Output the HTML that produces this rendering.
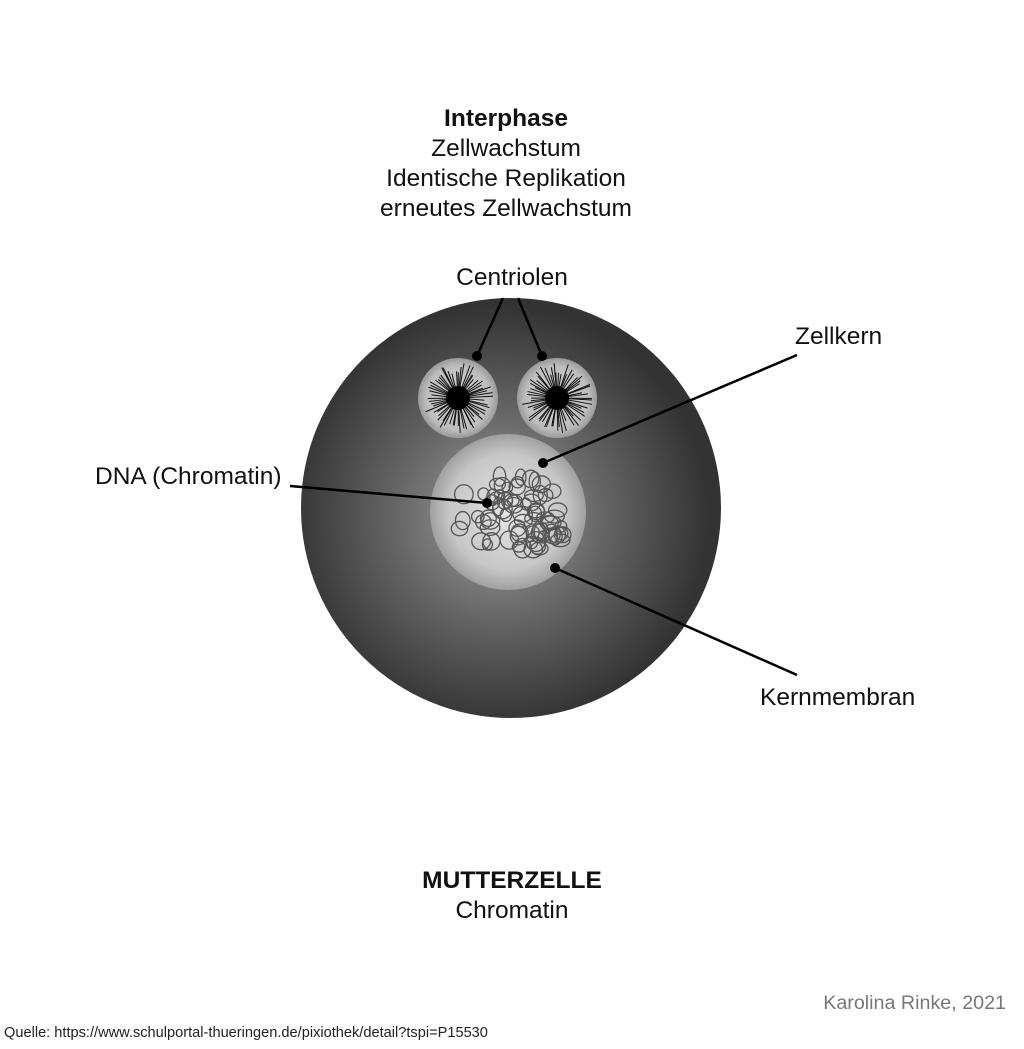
<!DOCTYPE html>
<html><head><meta charset="utf-8"><style>
html,body{margin:0;padding:0;background:#fff;}
body{width:1024px;height:1049px;overflow:hidden;position:relative;font-family:"Liberation Sans",Arial,sans-serif;}
.t{position:absolute;text-align:center;color:#111;font-size:24.5px;line-height:30px;}
</style></head><body>
<div class="t" style="left:306px;top:104px;width:400px;"><b>Interphase</b><br>Zellwachstum<br>Identische Replikation<br>erneutes Zellwachstum</div>
<div class="t" style="left:412px;top:263px;width:200px;">Centriolen</div>
<div class="t" style="left:795px;top:322px;width:150px;text-align:left;">Zellkern</div>
<div class="t" style="left:95px;top:462px;width:220px;text-align:left;">DNA (Chromatin)</div>
<div class="t" style="left:760px;top:683px;width:200px;text-align:left;">Kernmembran</div>
<div class="t" style="left:312px;top:866px;width:400px;"><b>MUTTERZELLE</b><br>Chromatin</div>
<div class="t" style="left:700px;top:988px;width:306px;text-align:right;font-size:19.7px;color:#777;">Karolina Rinke, 2021</div>
<div class="t" style="left:4px;top:1025px;width:700px;text-align:left;font-size:14.6px;line-height:17px;color:#222;">Quelle: https://www.schulportal-thueringen.de/pixiothek/detail?tspi=P15530</div>
<svg id="s" width="1024" height="1049" style="position:absolute;left:0;top:0">
<defs>
<radialGradient id="cg" cx="0.47" cy="0.52" r="0.5">
<stop offset="0" stop-color="#a0a0a0"/><stop offset="0.5" stop-color="#656565"/><stop offset="1" stop-color="#333"/></radialGradient>
<radialGradient id="ng" cx="0.5" cy="0.5" r="0.5">
<stop offset="0" stop-color="#e6e6e6"/><stop offset="0.75" stop-color="#c6c6c6"/><stop offset="1" stop-color="#a0a0a0"/></radialGradient>
<radialGradient id="zg" cx="0.5" cy="0.5" r="0.5">
<stop offset="0" stop-color="#d8d8d8"/><stop offset="0.8" stop-color="#bdbdbd"/><stop offset="1" stop-color="#9a9a9a"/></radialGradient>
</defs>
<circle cx="511" cy="508" r="210" fill="url(#cg)"/>
<circle cx="508" cy="512" r="78" fill="url(#ng)"/>
<circle cx="458" cy="398" r="40" fill="url(#zg)"/>
<circle cx="557" cy="398" r="40" fill="url(#zg)"/>
<g id="rays" stroke="#111" stroke-width="1"></g>
<g id="chrom" fill="none" stroke="#555" stroke-width="1.3"></g>
<circle cx="458" cy="398" r="12" fill="#000"/>
<circle cx="557" cy="398" r="12" fill="#000"/>
<g stroke="#000" stroke-width="2.5">
<line x1="503" y1="298" x2="477" y2="356"/><line x1="518" y1="298" x2="542" y2="356"/>
<line x1="797" y1="355" x2="543" y2="463"/>
<line x1="290" y1="486" x2="487" y2="503"/>
<line x1="797" y1="675" x2="555" y2="568"/>
</g>
<g fill="#000"><circle cx="477" cy="356" r="5"/><circle cx="542" cy="356" r="5"/><circle cx="543" cy="463" r="5"/><circle cx="487" cy="503" r="5"/><circle cx="555" cy="568" r="5"/></g>
</svg>
<script>
var ns="http://www.w3.org/2000/svg",r=document.getElementById("rays"),c=document.getElementById("chrom");
var seed=7;function rnd(){seed=(seed*16807)%2147483647;return seed/2147483647;}
[[458,398],[557,398]].forEach(function(p){for(var i=0;i<60;i++){var a=i/60*6.283+(rnd()-0.5)*0.1,l=24+rnd()*12;var e=document.createElementNS(ns,"line");e.setAttribute("x1",p[0]);e.setAttribute("y1",p[1]);e.setAttribute("x2",p[0]+Math.cos(a)*l);e.setAttribute("y2",p[1]+Math.sin(a)*l);r.appendChild(e);}});
var n=0;while(n<75){var x=452+rnd()*115,y=469+rnd()*82;var dx=(x-510)/54,dy=(y-512)/38;if(dy<0&&dx*dx+dy*dy>1)continue;if(dy>=0&&Math.abs(dx)>1)continue;n++;var e=document.createElementNS(ns,"ellipse");e.setAttribute("cx",x);e.setAttribute("cy",y);e.setAttribute("rx",5+rnd()*5);e.setAttribute("ry",5+rnd()*5);c.appendChild(e);}
</script>
</body></html>
